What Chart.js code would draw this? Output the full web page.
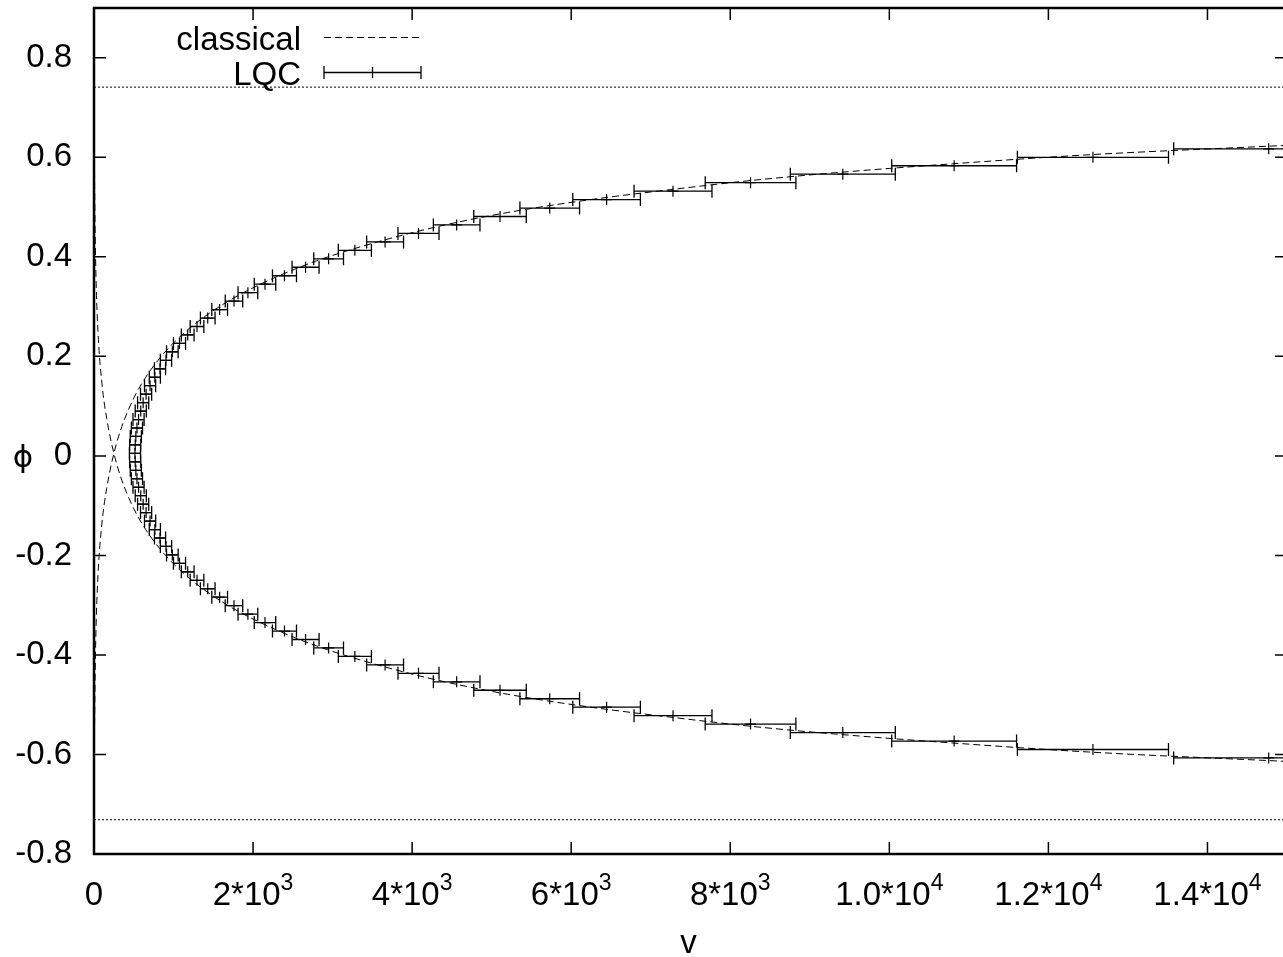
<!DOCTYPE html>
<html>
<head>
<meta charset="utf-8">
<title>phi vs v</title>
<script src="https://cdn.jsdelivr.net/npm/chart.js@4.4.1/dist/chart.umd.min.js"></script>
<style>
  html, body { margin: 0; padding: 0; background: #fff; overflow: hidden; }
  #wrap { width: 1300px; height: 957px; }
</style>
</head>
<body>
<div id="wrap"><canvas id="phi-chart"></canvas></div>
<script>
// LQC expectation values: phi, <v> and the spread in v (half width of the bar)
const lqcPhi = [
  -0.607, -0.590, -0.573, -0.556, -0.539, -0.522, -0.505, -0.488, -0.471, -0.454,
  -0.437, -0.420, -0.403, -0.386, -0.369, -0.352, -0.335, -0.318, -0.301, -0.284,
  -0.267, -0.250, -0.233, -0.216, -0.199, -0.182, -0.165, -0.148, -0.131, -0.114,
  -0.097, -0.080, -0.063, -0.046, -0.029, -0.012, 0.005, 0.022, 0.039, 0.056,
  0.073, 0.090, 0.107, 0.124, 0.141, 0.158, 0.175, 0.192, 0.209, 0.226,
  0.243, 0.260, 0.277, 0.294, 0.311, 0.328, 0.345, 0.362, 0.379, 0.396,
  0.413, 0.430, 0.447, 0.464, 0.481, 0.498, 0.515, 0.532, 0.549, 0.566,
  0.583, 0.600, 0.617
];
const lqcV = [
  14770, 12560, 10815, 9415, 8255, 7280, 6445, 5730, 5105, 4560,
  4080, 3660, 3280, 2950, 2660, 2395, 2150, 1935, 1760, 1580,
  1430, 1295, 1178, 1075, 985, 905, 830, 765, 705, 655,
  618, 588, 560, 540, 526, 518, 515, 518, 526, 540,
  560, 588, 618, 655, 705, 765, 830, 905, 985, 1075,
  1178, 1295, 1430, 1580, 1760, 1935, 2150, 2395, 2660, 2950,
  3280, 3660, 4080, 4560, 5105, 5730, 6445, 7280, 8255, 9415,
  10815, 12560, 14770
];
const lqcDv = [
  1195, 950, 785, 660, 570, 490, 425, 375, 330, 293,
  258, 232, 208, 187, 170, 151, 135, 124, 110, 99,
  92, 86, 80, 76, 73, 71, 70, 70, 70, 70,
  70, 70, 70, 70, 70, 70, 70, 70, 70, 70,
  70, 70, 70, 70, 70, 70, 70, 71, 73, 76,
  80, 86, 92, 99, 110, 124, 135, 151, 170, 187,
  208, 232, 258, 293, 330, 375, 425, 490, 570, 660,
  785, 950, 1195
];

// classical trajectories (expanding and contracting branch)
const classicalV = [
  1, 3, 6, 12, 25, 50, 100, 160, 250, 350, 500, 650, 800, 1000,
  1300, 1700, 2200, 2800, 3500, 4300, 5200, 6200, 7300, 8300,
  9400, 10800, 12500, 15000
];
const classicalUp = [
  -0.85, -0.69, -0.58, -0.47, -0.35, -0.24, -0.135, -0.065, 0.005, 0.059,
  0.116, 0.158, 0.191, 0.227, 0.269, 0.312, 0.353, 0.392, 0.427, 0.460,
  0.489, 0.514, 0.536, 0.554, 0.570, 0.587, 0.605, 0.624
];
const classicalDown = [
  0.86, 0.70, 0.59, 0.48, 0.36, 0.25, 0.145, 0.075, 0.005, -0.049,
  -0.106, -0.148, -0.181, -0.217, -0.259, -0.302, -0.343, -0.382, -0.417, -0.450,
  -0.479, -0.504, -0.526, -0.544, -0.560, -0.577, -0.595, -0.614
];

// dotted reference levels
const phiLevels = [0.741, -0.731];

const xTicks = [0, 2000, 4000, 6000, 8000, 10000, 12000, 14000];
const yTicks = [-0.8, -0.6, -0.4, -0.2, 0, 0.2, 0.4, 0.6, 0.8];
const xMax = 15000;

const FONT = 'Liberation Sans, Arial, Helvetica, sans-serif';

function toPoints(xs, ys) {
  return xs.map(function(x, i) { return { x: x, y: ys[i] }; });
}

// x tick text: mantissa and exponent, drawn with a raised exponent
function xTickParts(v) {
  if (v === 0) return ['0', ''];
  if (v < 10000) return [(v / 1000) + '*10', '3'];
  return [(v / 10000).toFixed(1) + '*10', '4'];
}

// frame, inward ticks, x labels, titles, legend and the x error bars
const gnuplotFrame = {
  id: 'gnuplotFrame',
  afterDatasetsDraw: function(chart) {
    const c = chart.ctx;
    const a = chart.chartArea;
    const xs = chart.scales.x;
    const ys = chart.scales.y;

    // error bars of the LQC points
    c.save();
    c.beginPath();
    c.rect(a.left, a.top, a.right - a.left, a.bottom - a.top);
    c.clip();
    c.strokeStyle = '#000';
    c.lineWidth = 1.3;
    c.beginPath();
    for (let i = 0; i < lqcV.length; i++) {
      const y = ys.getPixelForValue(lqcPhi[i]);
      const x1 = xs.getPixelForValue(lqcV[i] - lqcDv[i]);
      const x2 = xs.getPixelForValue(lqcV[i] + lqcDv[i]);
      c.moveTo(x1, y); c.lineTo(x2, y);
      c.moveTo(x1, y - 6.5); c.lineTo(x1, y + 6.5);
      c.moveTo(x2, y - 6.5); c.lineTo(x2, y + 6.5);
    }
    c.stroke();
    c.restore();
  },
  afterDraw: function(chart) {
    const c = chart.ctx;
    const a = chart.chartArea;
    const xs = chart.scales.x;
    const ys = chart.scales.y;
    const tl = 12;

    c.save();
    c.strokeStyle = '#000';
    c.fillStyle = '#000';

    // ticks on all four sides, pointing inwards
    c.lineWidth = 1.5;
    c.beginPath();
    xTicks.forEach(function(v) {
      const x = xs.getPixelForValue(v);
      c.moveTo(x, a.bottom); c.lineTo(x, a.bottom - tl);
      c.moveTo(x, a.top); c.lineTo(x, a.top + tl);
    });
    yTicks.forEach(function(v) {
      const y = ys.getPixelForValue(v);
      c.moveTo(a.left, y); c.lineTo(a.left + tl, y);
      c.moveTo(a.right, y); c.lineTo(a.right - tl, y);
    });
    c.stroke();

    // border
    c.lineWidth = 2.5;
    c.strokeRect(a.left, a.top, a.right - a.left, a.bottom - a.top);

    // x tick labels
    c.textBaseline = 'alphabetic';
    c.textAlign = 'left';
    xTicks.forEach(function(v) {
      const parts = xTickParts(v);
      c.font = '33px ' + FONT;
      const w1 = c.measureText(parts[0]).width;
      c.font = '23px ' + FONT;
      const w2 = parts[1] ? c.measureText(parts[1]).width : 0;
      const x0 = xs.getPixelForValue(v) - (w1 + w2) / 2;
      c.font = '33px ' + FONT;
      c.fillText(parts[0], x0, a.bottom + 51);
      if (parts[1]) {
        c.font = '23px ' + FONT;
        c.fillText(parts[1], x0 + w1, a.bottom + 36);
      }
    });

    // axis titles
    c.font = '33px ' + FONT;
    c.textAlign = 'center';
    c.fillText('v', (a.left + a.right) / 2 - 2, 953);
    c.font = '31px DejaVu Sans, ' + FONT;
    c.fillText('\u03D5', 23, ys.getPixelForValue(0) + 11);

    // legend
    const keyX1 = 324, keyX2 = 421;
    c.font = '33px ' + FONT;
    c.textAlign = 'right';
    c.fillText('classical', 301, 50);
    c.fillText('LQC', 301, 85);

    c.lineWidth = 1;
    c.setLineDash([7, 4]);
    c.beginPath();
    c.moveTo(keyX1, 37.5); c.lineTo(keyX2, 37.5);
    c.stroke();
    c.setLineDash([]);

    const ky = 72.5;
    c.lineWidth = 1.3;
    c.beginPath();
    c.moveTo(keyX1, ky); c.lineTo(keyX2, ky);
    c.moveTo(keyX1, ky - 6.5); c.lineTo(keyX1, ky + 6.5);
    c.moveTo(keyX2, ky - 6.5); c.lineTo(keyX2, ky + 6.5);
    const km = (keyX1 + keyX2) / 2;
    c.moveTo(km, ky - 5.5); c.lineTo(km, ky + 5.5);
    c.stroke();
    c.restore();
  }
};

const ctx = document.getElementById('phi-chart').getContext('2d');

const lineStyle = {
  showLine: true,
  borderColor: '#000',
  borderWidth: 1,
  pointRadius: 0,
  fill: false
};

new Chart(ctx, {
  type: 'scatter',
  data: {
    datasets: [
      Object.assign({
        label: 'classical',
        data: toPoints(classicalV, classicalUp),
        borderDash: [7, 4],
        cubicInterpolationMode: 'monotone'
      }, lineStyle),
      Object.assign({
        label: 'classical (contracting)',
        data: toPoints(classicalV, classicalDown),
        borderDash: [7, 4],
        cubicInterpolationMode: 'monotone'
      }, lineStyle),
      Object.assign({
        label: 'upper level',
        data: [{ x: 0, y: phiLevels[0] }, { x: xMax, y: phiLevels[0] }],
        borderDash: [2, 2]
      }, lineStyle),
      Object.assign({
        label: 'lower level',
        data: [{ x: 0, y: phiLevels[1] }, { x: xMax, y: phiLevels[1] }],
        borderDash: [2, 2]
      }, lineStyle),
      {
        label: 'LQC',
        data: toPoints(lqcV, lqcPhi),
        showLine: false,
        pointStyle: 'cross',
        pointRadius: 5.5,
        pointBorderWidth: 1.2,
        borderColor: '#000',
        backgroundColor: '#000'
      }
    ]
  },
  options: {
    responsive: true,
    maintainAspectRatio: false,
    animation: false,
    layout: { padding: { left: 0, top: 8, right: 13, bottom: 0 } },
    plugins: {
      legend: { display: false },
      tooltip: { enabled: false }
    },
    scales: {
      x: {
        type: 'linear',
        min: 0,
        max: xMax,
        ticks: { display: false },
        grid: { display: false, drawTicks: false, tickLength: 0 },
        border: { display: false },
        afterFit: function(scale) {
          scale.height = 103;
          scale.paddingLeft = 0;
          scale.paddingRight = 0;
        }
      },
      y: {
        type: 'linear',
        min: -0.8,
        max: 0.9,
        ticks: {
          stepSize: 0.2,
          includeBounds: false,
          color: '#000',
          padding: 22,
          font: { family: FONT, size: 33 },
          callback: function(v) {
            return Math.abs(v) < 1e-9 ? '0' : v.toFixed(1);
          }
        },
        grid: { display: false, drawTicks: false, tickLength: 0 },
        border: { display: false },
        afterFit: function(scale) {
          scale.width = 94;
          scale.paddingTop = 0;
          scale.paddingBottom = 0;
        }
      }
    }
  },
  plugins: [gnuplotFrame]
});
</script>
</body>
</html>
